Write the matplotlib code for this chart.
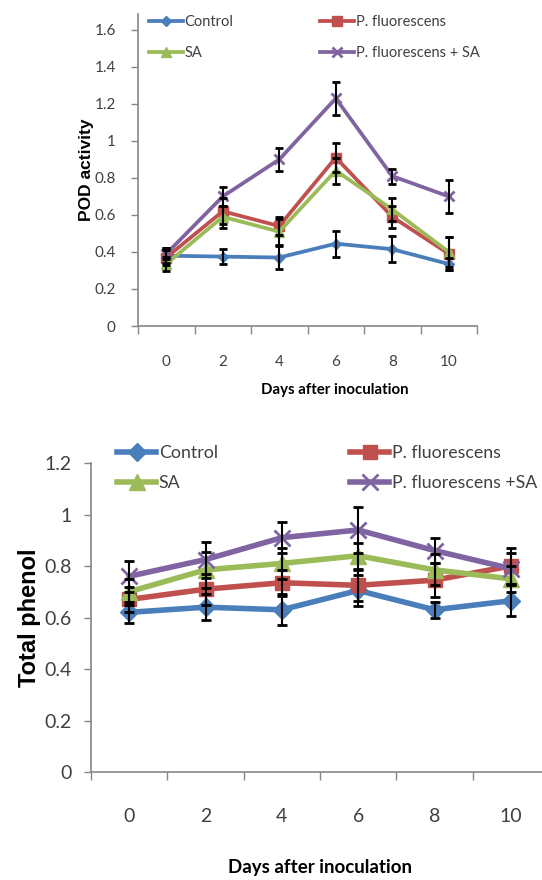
import matplotlib
matplotlib.use("Agg")
import matplotlib.pyplot as plt
import numpy as np

# days after inoculation (categories)
days = ["0", "2", "4", "6", "8", "10"]
series_names = ["Control", "P. fluorescens", "SA", "P. fluorescens + SA"]

# POD activity (top panel)
pod_control = [0.38, 0.375, 0.37, 0.445, 0.415, 0.335]
pod_pf = [0.37, 0.62, 0.54, 0.91, 0.59, 0.39]
pod_sa = [0.335, 0.59, 0.51, 0.84, 0.63, 0.40]
pod_pfsa = [0.39, 0.70, 0.90, 1.23, 0.81, 0.70]
pod_control_err = [0.04, 0.04, 0.06, 0.07, 0.07, 0.03]
pod_pf_err = [0.04, 0.07, 0.05, 0.08, 0.06, 0.09]
pod_sa_err = [0.04, 0.06, 0.07, 0.07, 0.06, 0.08]
pod_pfsa_err = [0.03, 0.05, 0.06, 0.09, 0.04, 0.09]

# Total phenol (bottom panel)
ph_control = [0.62, 0.64, 0.63, 0.705, 0.63, 0.665]
ph_pf = [0.67, 0.71, 0.735, 0.725, 0.745, 0.80]
ph_sa = [0.70, 0.785, 0.81, 0.84, 0.785, 0.75]
ph_pfsa = [0.76, 0.825, 0.91, 0.94, 0.86, 0.79]
ph_control_err = [0.04, 0.05, 0.06, 0.06, 0.03, 0.06]
ph_pf_err = [0.05, 0.06, 0.05, 0.06, 0.065, 0.07]
ph_sa_err = [0.05, 0.07, 0.06, 0.05, 0.06, 0.05]
ph_pfsa_err = [0.06, 0.07, 0.06, 0.09, 0.05, 0.06]

colors = ["#4A7EBB", "#C0504D", "#9BBB59", "#8064A2"]
markers = ["D", "s", "^", "x"]
calib = ["Lato", "DejaVu Sans"]
arial = ["Liberation Sans", "DejaVu Sans"]
axis_gray = "#868686"
text_gray = "#404040"

W, H = 542, 880


def px(x, y):
    return (x / W, 1 - y / H)


def draw_panel(fig, ax, data, errs, names, ylim, yticks, ylabel, lw, ms, capsize,
               fs, lfs, yfs, xlfs, xmax, label_pad, xlabel_x, ypad, leg1, leg2, lspace, hlen):
    x = np.arange(len(days))
    handles = []
    for i in range(4):
        ax.errorbar(x, data[i], yerr=errs[i], fmt="none", ecolor="black",
                    elinewidth=1.5, capsize=capsize, capthick=2, zorder=5)
        mew = 2.0 if markers[i] == "x" else 1
        (h,) = ax.plot(x, data[i], color=colors[i], lw=lw, marker=markers[i],
                       ms=ms[i], mec=colors[i], mew=mew, zorder=3 + i * 0.1)
        handles.append(h)
    ax.set_xlim(-0.5, xmax)
    ax.set_ylim(*ylim)
    ax.set_yticks(yticks)
    ax.set_yticklabels([f"{t:g}" for t in yticks], family=calib, fontsize=fs, color=text_gray)
    ax.set_xticks(np.arange(-0.5, len(days)))
    ax.set_xticklabels([""] * (len(days) + 1))
    for xi, d in zip(x, days):
        ax.text(xi, -label_pad[0], d, transform=ax.get_xaxis_transform(),
                ha="center", va="center", family=calib, fontsize=fs, color=text_gray)
    ax.text(xlabel_x, -label_pad[1], "Days after inoculation", transform=ax.get_xaxis_transform(),
            ha="center", va="center", family=calib, fontsize=xlfs, fontweight="bold")
    ax.tick_params(axis="x", direction="out", length=6, color=axis_gray, width=1)
    ax.tick_params(axis="y", direction="out", length=5, color=axis_gray, width=1, pad=ypad)
    for s in ["top", "right"]:
        ax.spines[s].set_visible(False)
    for s in ["left", "bottom"]:
        ax.spines[s].set_color(axis_gray)
        ax.spines[s].set_linewidth(1.2)
    ax.set_ylabel(ylabel, family=arial, fontsize=yfs, fontweight="bold")

    # two legend columns placed separately, as in the original layout
    common = dict(frameon=False, loc="upper left", bbox_transform=fig.transFigure,
                  prop={"family": calib, "size": lfs}, numpoints=1, handlelength=hlen,
                  handletextpad=0.15, labelspacing=lspace, borderpad=0, borderaxespad=0,
                  labelcolor=text_gray)
    l1 = ax.legend([handles[0], handles[2]], [names[0], names[2]],
                   bbox_to_anchor=px(*leg1), **common)
    ax.add_artist(l1)
    ax.legend([handles[1], handles[3]], [names[1], names[3]],
              bbox_to_anchor=px(*leg2), **common)


fig = plt.figure(figsize=(W / 100, H / 100), dpi=100)

ax1 = fig.add_axes([138 / W, 1 - 326 / H, (477 - 138) / W, (326 - 14) / H])
draw_panel(fig, ax1,
           [pod_control, pod_pf, pod_sa, pod_pfsa],
           [pod_control_err, pod_pf_err, pod_sa_err, pod_pfsa_err],
           series_names,
           (0, 1.686), [0, 0.2, 0.4, 0.6, 0.8, 1.0, 1.2, 1.4, 1.6],
           "POD activity", lw=2.7, ms=[5.5, 7, 7.5, 7.5], capsize=3,
           fs=11, lfs=10.5, yfs=12.5, xlfs=10.8, xmax=5.33, label_pad=(0.115, 0.205),
           xlabel_x=2.99, ypad=11,
           leg1=(149, 15.5), leg2=(320, 15.5), lspace=1.15, hlen=2.3)
ax1.yaxis.set_label_coords(-0.13, 0.5)

ax2 = fig.add_axes([91 / W, 1 - 772 / H, (549 - 91) / W, (772 - 463) / H])
draw_panel(fig, ax2,
           [ph_control, ph_pf, ph_sa, ph_pfsa],
           [ph_control_err, ph_pf_err, ph_sa_err, ph_pfsa_err],
           ["Control", "P. fluorescens", "SA", "P. fluorescens +SA"],
           (0, 1.2), [0, 0.2, 0.4, 0.6, 0.8, 1.0, 1.2],
           "Total phenol", lw=4.0, ms=[9.5, 10.5, 11, 11], capsize=3.5,
           fs=14, lfs=12.8, yfs=17, xlfs=13.5, xmax=5.5, label_pad=(0.145, 0.31),
           xlabel_x=2.5, ypad=9,
           leg1=(117, 445), leg2=(350, 445), lspace=0.8, hlen=2.2)
ax2.yaxis.set_label_coords(-0.11, 0.5)

fig.savefig("out.png", dpi=100)
